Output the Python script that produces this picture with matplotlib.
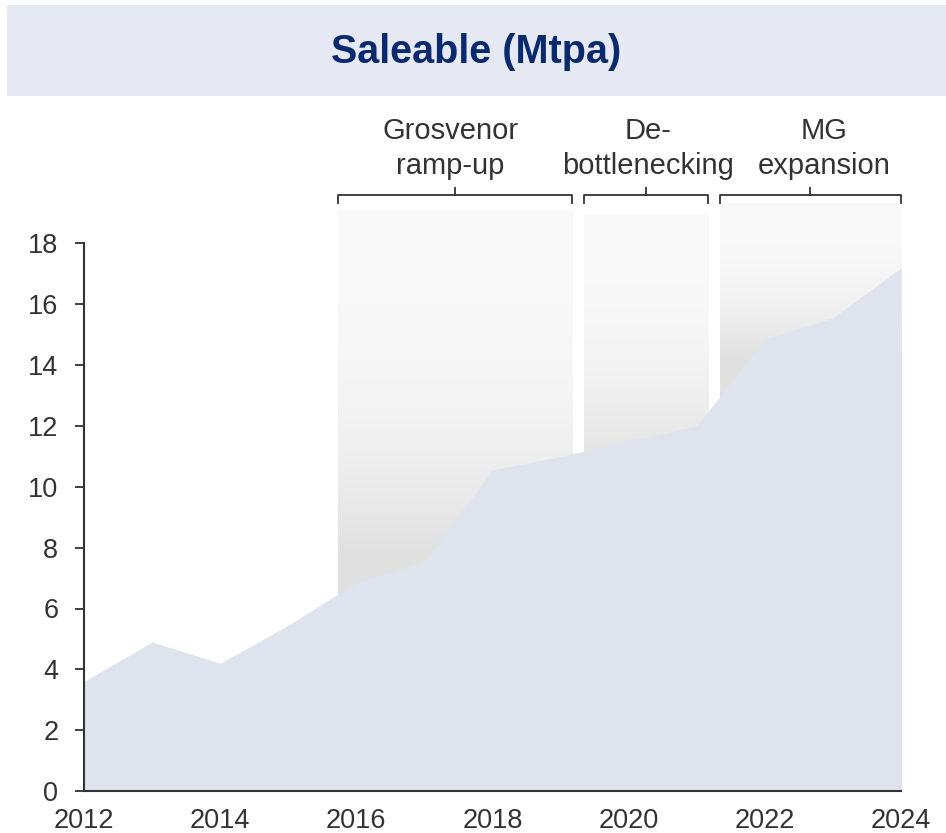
import numpy as np
import matplotlib
matplotlib.use("Agg")
import matplotlib.pyplot as plt
from matplotlib.patches import Rectangle

plt.rcParams['font.family'] = ['Liberation Sans', 'DejaVu Sans']

# Saleable production, Mtpa
years = [2012, 2013, 2014, 2015, 2016, 2017, 2018, 2019, 2020, 2021, 2022, 2023, 2024]
saleable = [3.6, 4.9, 4.2, 5.45, 6.85, 7.55, 10.55, 11.0, 11.5, 12.0, 14.85, 15.55, 17.2]

# growth phases shown as shaded bands with brackets
phase_labels = ["Grosvenor\nramp-up", "De-\nbottlenecking", "MG\nexpansion"]
phase_start = [2015.73, 2019.34, 2021.34]
phase_end = [2019.17, 2021.17, 2024.0]
phase_top = [19.1, 18.92, 19.32]

x_ticks = [2012, 2014, 2016, 2018, 2020, 2022, 2024]
y_ticks = [0, 2, 4, 6, 8, 10, 12, 14, 16, 18]

W, H = 946, 833
fig = plt.figure(figsize=(W / 100, H / 100), dpi=100)

# title banner
fig.patches.append(Rectangle((7 / W, 1 - 96 / H), 1 - 7 / W, 91 / H,
                             transform=fig.transFigure, facecolor='#e6e9f3',
                             edgecolor='none', zorder=0))
fig.text(476 / W, 1 - 52 / H, "Saleable (Mtpa)", ha='center', va='center',
         fontsize=28.5, fontweight='bold', color='#0a2a6e')

ax = fig.add_axes([84 / W, 42 / H, 817 / W, 547.5 / H])

txt_col = '#333333'

# gradient bands (white at top, grey towards the area line)
for x0, x1, top in zip(phase_start, phase_end, phase_top):
    bottom = np.interp((x0 + x1) / 2, years, saleable) - 1.0
    vals = np.linspace(top, 0, 400)
    t = np.clip((top - vals) / (top - bottom), 0, 1)
    g = 0.976 - (0.976 - 0.88) * t ** 2.6
    img = np.stack([g, g, g], axis=-1)[:, None, :].repeat(2, axis=1)
    ax.imshow(img, extent=(x0, x1, 0, top), aspect='auto', zorder=1,
              clip_on=False, interpolation='bilinear')
    # bracket above band
    yb, ye, yt = 19.58, 19.32, 19.84
    ax.plot([x0, x0, x1, x1], [ye, yb, yb, ye], color=txt_col, lw=1.3,
            clip_on=False, solid_joinstyle='round', zorder=3)
    xm = (x0 + x1) / 2
    ax.plot([xm, xm], [yb, yt], color=txt_col, lw=1.3, clip_on=False, zorder=3)

label_shift = [-0.07, 0.03, 0.2]
for lab, x0, x1, dx in zip(phase_labels, phase_start, phase_end, label_shift):
    ax.text((x0 + x1) / 2 + dx, 21.12, lab, ha='center', va='center',
            fontsize=21, color=txt_col, linespacing=1.32, clip_on=False)

ax.fill_between(years, saleable, 0, color='#dee3ee', lw=0, zorder=2)

ax.set_xlim(2012, 2024)
ax.set_ylim(0, 18)
ax.set_xticks(x_ticks)
ax.set_yticks(y_ticks)
ax.tick_params(axis='x', length=0, pad=12, labelsize=19.5, labelcolor=txt_col)
ax.tick_params(axis='y', length=6.5, width=1.3, pad=12, labelsize=19.5,
               labelcolor=txt_col, color=txt_col)
for s in ['top', 'right']:
    ax.spines[s].set_visible(False)
for s in ['left', 'bottom']:
    ax.spines[s].set_color(txt_col)
    ax.spines[s].set_linewidth(1.5)
    ax.spines[s].set_zorder(4)

fig.savefig("out.png", dpi=100)
